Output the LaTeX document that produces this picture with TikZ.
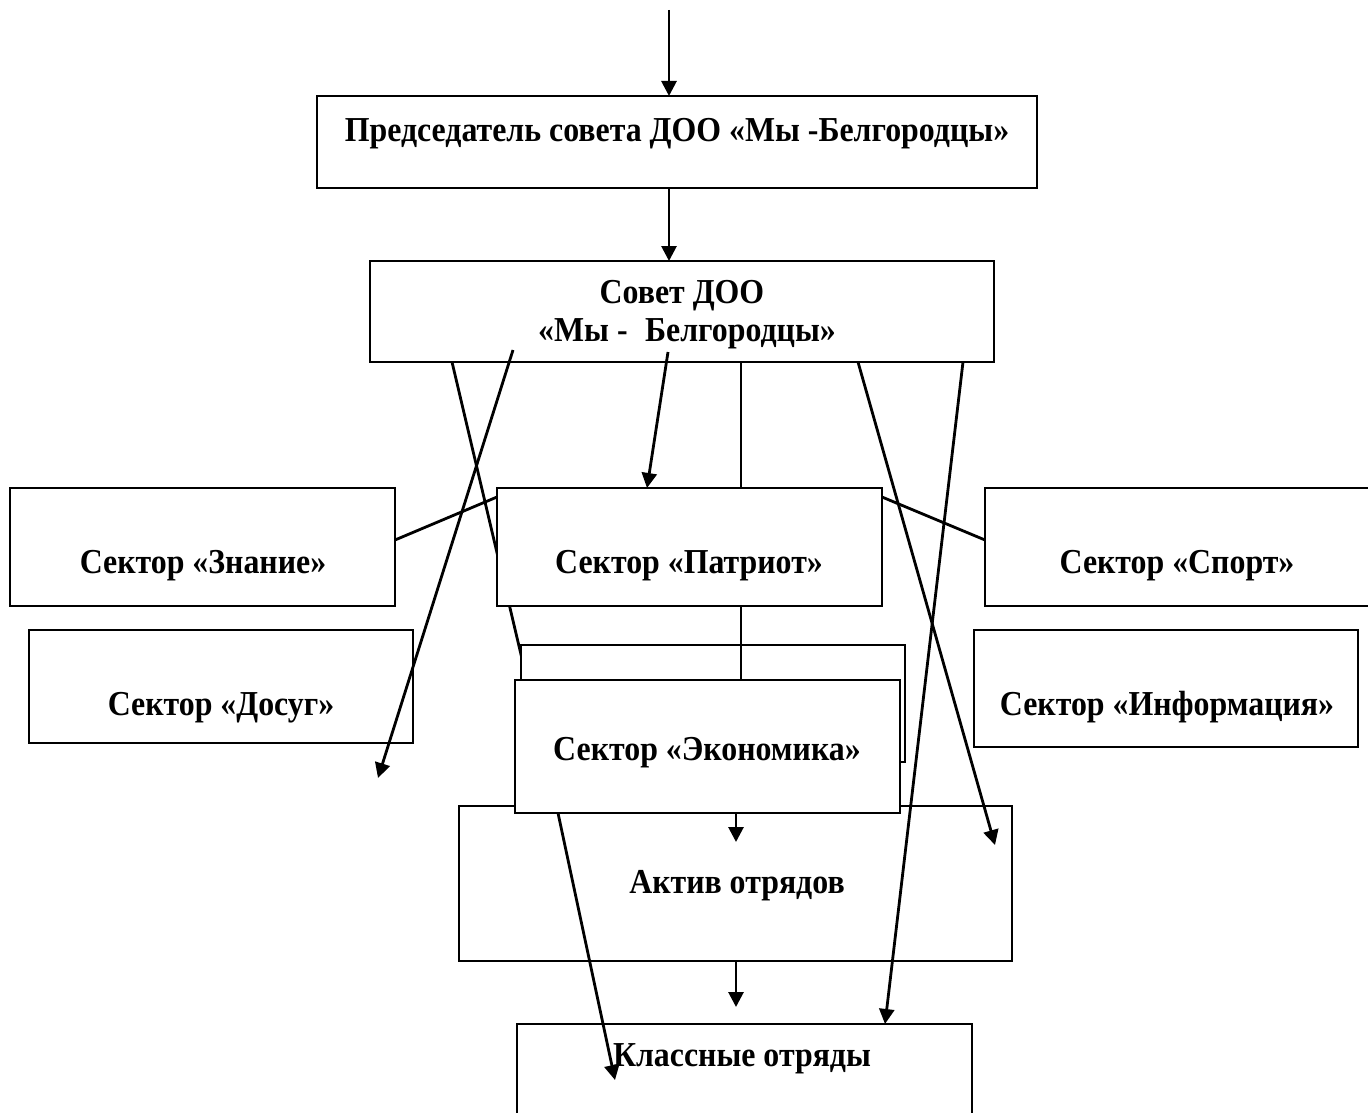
\documentclass[tikz,border=0pt]{standalone}
\usepackage{fontspec}
\setmainfont{Liberation Serif}
\newfontfamily\lblfont[FakeStretch=0.91]{Liberation Serif}
\usetikzlibrary{arrows.meta,calc,backgrounds}
\begin{document}
\begin{tikzpicture}[x=1pt,y=-1pt,
  box/.style={draw,line width=2.2pt,fill=white,rectangle,inner sep=0pt,outer sep=0pt},
  lbl/.style={font=\lblfont\bfseries\fontsize{35}{40}\selectfont,inner sep=0pt,anchor=base},
  conn/.style={line width=2.8pt},
  arr/.style={line width=2.8pt,-{Triangle[length=15pt,width=15pt]}}]
\useasboundingbox (0,0) rectangle (1368,1113);
\clip (0,0) rectangle (1368,1113);
% boxes
\node[box,minimum width=720pt,minimum height=92pt] (pred) at (677,142) {};
\node[box,minimum width=624pt,minimum height=101pt] (sovet) at (682,311.5) {};
\node[box,minimum width=385pt,minimum height=118pt] (znan) at (202.5,547) {};
\node[box,minimum width=385pt,minimum height=118pt] (patr) at (689.5,547) {};
\node[box,minimum width=387pt,minimum height=118pt] (sport) at (1178.5,547) {};
\node[box,minimum width=384pt,minimum height=113pt] (dosug) at (221,686.5) {};
\node[box,minimum width=384pt,minimum height=117pt] (inform) at (1166,688.5) {};
\node[box,minimum width=553pt,minimum height=155pt] (aktiv) at (735.5,883.5) {};
\node[box,minimum width=384pt,minimum height=117pt] (econb) at (713,703.5) {};
\node[box,minimum width=385pt,minimum height=133pt] (econ) at (707.5,746.5) {};
\node[box,minimum width=455pt,minimum height=92pt] (klass) at (744.5,1070) {};
% texts
\node[lbl] (t1) at (677,142) {Председатель совета ДОО «Мы -Белгородцы»};
\node[lbl] (t2a) at (682,303) {Совет ДОО};
\node[lbl] (t2b) at (687,341) {«Мы -\hspace{0.5em}Белгородцы»};
\node[lbl] (t3) at (203,573) {Сектор «Знание»};
\node[lbl] (t4) at (689,573) {Сектор «Патриот»};
\node[lbl] (t5) at (1177,573) {Сектор «Спорт»};
\node[lbl] (t6) at (221,715) {Сектор «Досуг»};
\node[lbl] (t7) at (707,760) {Сектор «Экономика»};
\node[lbl] (t8) at (1167,715) {Сектор «Информация»};
\node[lbl] (t9) at (737,893) {Актив отрядов};
\node[lbl] (t10) at (742,1066) {Классные отряды};
% free ends
\coordinate (topStart) at (669,10);
\coordinate (bEnd) at (378,778);
\coordinate (eEnd) at (995,845);
\coordinate (iEnd) at (615,1080);
\coordinate (jEnd) at ($(econ.south west)+(221,29)$);
\coordinate (kEnd) at ($(aktiv.south west)+(277,46)$);
% connector under boxes
\begin{scope}[on background layer]
  \fill[white] (0,0) rectangle (1368,1113);
  \draw[conn] ($(sovet.south west)+(82,0)$) -- ($(econ.north west)+(12,0)$);
\end{scope}
% connectors over boxes
\draw[arr] (topStart) -- (pred.north -| topStart);
\draw[arr] ($(pred.south west)+(352,0)$) -- ($(sovet.north west)+(299,0)$);
\draw[arr] ($(sovet.south west)+(143,-12)$) -- (bEnd);
\draw[arr] ($(sovet.south west)+(298,-10)$) -- ($(patr.north west)+(150,0)$);
\draw[conn] ($(sovet.south west)+(371,0)$) -- ($(patr.north west)+(244,0)$);
\draw[conn] ($(patr.south west)+(244,0)$) -- ($(econ.north west)+(226,0)$);
\draw[arr] ($(sovet.south west)+(488,0)$) -- (eEnd);
\draw[arr] ($(sovet.south west)+(593,0)$) -- ($(klass.north west)+(368,0)$);
\draw[conn] ($(znan.east)+(0,-7)$) -- ($(patr.north west)+(0,9)$);
\draw[conn] ($(patr.north east)+(0,9)$) -- ($(sport.west)+(0,-7)$);
\draw[arr] ($(econ.south west)+(43,0)$) -- (iEnd);
\draw[arr] ($(econ.south west)+(221,0)$) -- (jEnd);
\draw[arr] ($(aktiv.south west)+(277,0)$) -- (kEnd);
\end{tikzpicture}
\end{document}
